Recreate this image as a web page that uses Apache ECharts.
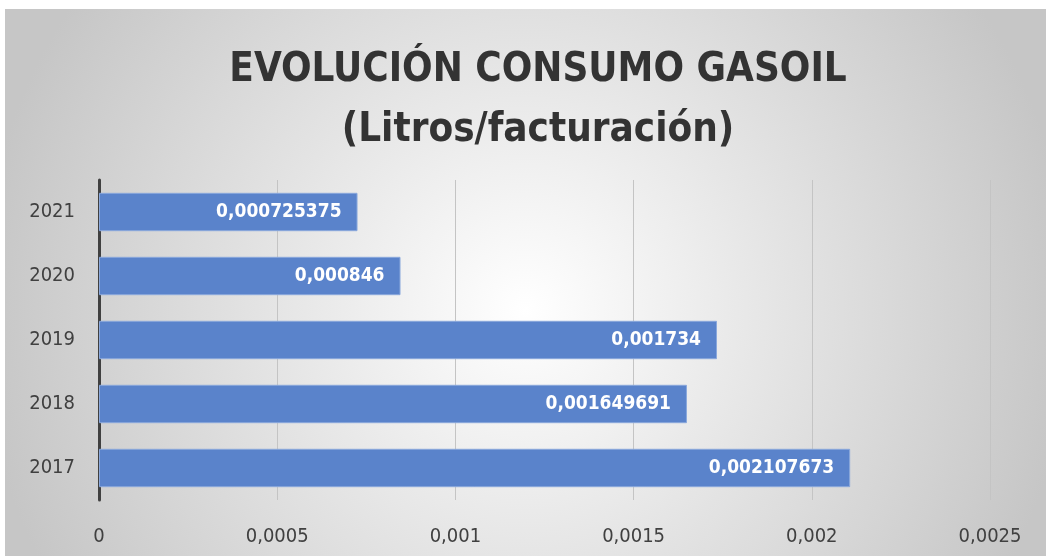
<!DOCTYPE html>
<html>
<head>
<meta charset="utf-8">
<script src="https://cdn.jsdelivr.net/npm/echarts@6/dist/echarts.min.js"></script>
<style>
  html, body { margin: 0; padding: 0; background: #fff; }
  #chart { width: 1046px; height: 556px; }
</style>
</head>
<body>
<div id="chart"></div>
<script>
// datos
const years = ["2017", "2018", "2019", "2020", "2021"];
const litros = [0.002107673, 0.001649691, 0.001734, 0.000846, 0.000725375];
const ejeMax = 0.0025;
const ejePaso = 0.0005;

const coma = v => String(v).replace(".", ",");
const fuente = "'Liberation Sans Narrow', 'DejaVu Sans Condensed', 'Open Sans', sans-serif";

let myChart = echarts.init(document.getElementById("chart"));
myChart.setOption({
  backgroundColor: "#fff",
  animation: false,
  graphic: [
    {
      type: "rect",
      z: -10,
      shape: { x: 5, y: 9, width: 1041, height: 547 },
      style: {
        fill: new echarts.graphic.RadialGradient(0.5, 0.55, 1.0, [
          { offset: 0, color: "#ffffff" },
          { offset: 1, color: "#c6c6c6" }
        ])
      }
    }
  ],
  title: {
    text: "EVOLUCIÓN CONSUMO GASOIL\n(Litros/facturación)",
    left: 533,
    textAlign: "center",
    top: 36,
    textStyle: {
      fontFamily: fuente,
      fontSize: 40,
      fontWeight: "bold",
      color: "#333333",
      lineHeight: 60
    }
  },
  grid: {
    left: 99,
    right: 56,
    top: 180,
    bottom: 56
  },
  xAxis: {
    type: "value",
    min: 0,
    max: ejeMax,
    interval: ejePaso,
    axisLine: { show: false },
    axisTick: { show: false },
    splitLine: { lineStyle: { color: "#c4c4c4", width: 1 } },
    axisLabel: {
      formatter: coma,
      color: "#404040",
      fontSize: 20,
      fontFamily: fuente,
      margin: 27
    }
  },
  yAxis: {
    type: "category",
    data: years,
    axisLine: { lineStyle: { color: "#404040", width: 3 } },
    axisTick: { show: false },
    axisLabel: {
      color: "#404040",
      fontSize: 20,
      fontFamily: fuente,
      margin: 24
    }
  },
  series: [
    {
      type: "bar",
      data: litros,
      barCategoryGap: "40%",
      itemStyle: {
        color: "#5a83cb",
        borderColor: "#8aa8dc",
        borderWidth: 1
      },
      label: {
        show: true,
        position: "insideRight",
        distance: 16,
        formatter: p => coma(p.value),
        color: "#ffffff",
        fontSize: 19,
        fontWeight: "bold",
        fontFamily: fuente
      }
    }
  ]
});
window.onresize = function() {
  myChart.resize();
};
</script>
</body>
</html>
